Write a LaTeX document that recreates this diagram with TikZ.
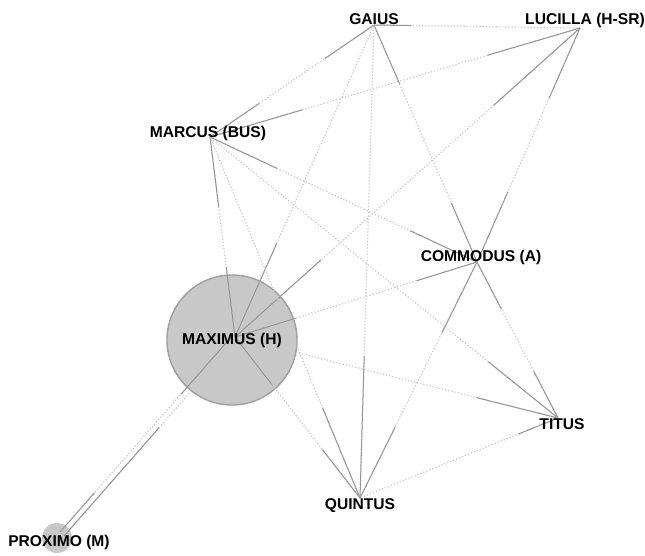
\documentclass[tikz,border=0pt]{standalone}
\usepackage{fontspec}
\setmainfont{Liberation Sans}
\usetikzlibrary{calc}
\definecolor{nodefill}{RGB}{200,200,200}
\definecolor{nodeline}{RGB}{160,160,160}
\definecolor{edgedark}{RGB}{150,150,150}
\definecolor{edgelight}{RGB}{200,200,200}
\tikzset{
  faint/.style={draw=edgelight, dotted, line width=1.2pt},
  strong/.style={draw=edgedark, line width=1pt},
  lbl/.style={font=\fontsize{15.6}{16}\selectfont\bfseries, text=black, inner sep=0pt},
  bignode/.style={circle, fill=nodefill, draw=nodeline, line width=1.4pt, minimum size=130pt, inner sep=0pt},
  smallnode/.style={circle, fill=nodefill, minimum size=30pt, inner sep=0pt}
}
\newcommand{\lnkA}[3]{\draw[faint] (#1) -- (#2); \draw[strong] (#1) -- ($(#1)!#3!(#2)$);}
\newcommand{\lnkB}[3]{\draw[faint] (#1) -- (#2); \draw[strong] (#1) -- ($(#1)!#3!(#2)$); \draw[strong] (#2) -- ($(#2)!#3!(#1)$);}
\begin{document}
\begin{tikzpicture}[x=1pt,y=-1pt]
\useasboundingbox (0,0) rectangle (645,555);
% circles
\node[bignode] (maxc) at (232,340) {};
\node[smallnode] (proc) at (57,538) {};
% edge anchors
\coordinate (g) at (374,25);
\coordinate (l) at (580,28);
\coordinate (mar) at (210,137);
\coordinate (c) at (477,262);
\coordinate (mx) at (235,337);
\coordinate (q) at (360,498);
\coordinate (t) at (558,418);
\coordinate (pa) at (64,536);
\coordinate (ma) at (237,339);
\coordinate (pb) at (60,532);
\coordinate (mb) at (233,335);
% edges
\lnkA{g}{l}{0.18}
\lnkB{g}{mar}{0.3}
\lnkB{mar}{l}{0.25}
\lnkB{g}{c}{0.25}
\lnkA{q}{g}{0.3}
\lnkA{mx}{g}{0.3}
\lnkB{l}{mx}{0.25}
\lnkB{l}{c}{0.3}
\lnkB{c}{q}{0.3}
\lnkB{mar}{c}{0.25}
\lnkB{mar}{mx}{0.35}
\lnkA{t}{mar}{0.2}
\lnkA{q}{mar}{0.25}
\lnkB{mx}{c}{0.25}
\lnkA{t}{mx}{0.25}
\lnkB{mx}{q}{0.3}
\lnkA{pa}{ma}{0.55}
\lnkA{mb}{pb}{0.3}
\draw[strong] (pb) -- ($(pb)!0.2!(mb)$);
\lnkB{c}{t}{0.3}
\lnkA{t}{q}{0.2}
% labels
\node[lbl] (gaius) at (374,19) {GAIUS};
\node[lbl] (lucilla) at (585,20) {LUCILLA (H-SR)};
\node[lbl] (marcus) at (208,133) {MARCUS (BUS)};
\node[lbl] (commodus) at (481,257) {COMMODUS (A)};
\node[lbl] (maximus) at (232,340) {MAXIMUS (H)};
\node[lbl] (proximo) at (59,542) {PROXIMO (M)};
\node[lbl] (quintus) at (360,506) {QUINTUS};
\node[lbl] (titus) at (562,424) {TITUS};
\end{tikzpicture}
\end{document}
